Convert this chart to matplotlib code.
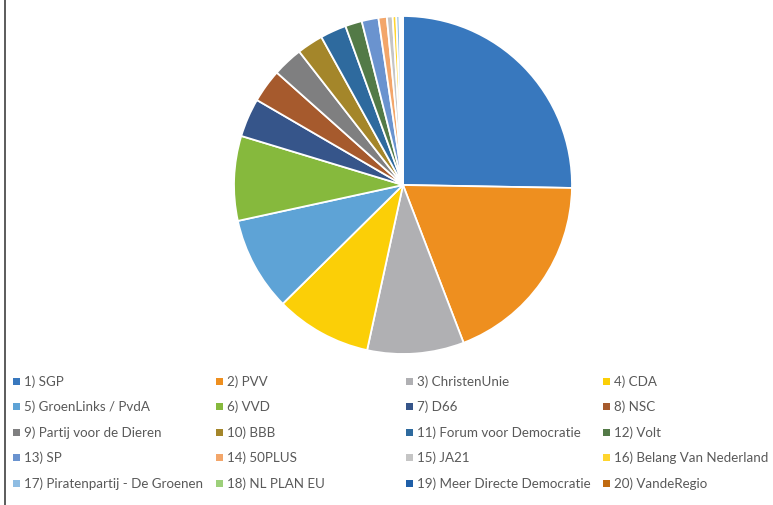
import matplotlib
matplotlib.use('Agg')
import matplotlib.pyplot as plt
from matplotlib.lines import Line2D
from matplotlib.patches import Rectangle

parties = ['SGP', 'PVV', 'ChristenUnie', 'CDA', 'GroenLinks / PvdA', 'VVD',
           'D66', 'NSC', 'Partij voor de Dieren', 'BBB',
           'Forum voor Democratie', 'Volt', 'SP', '50PLUS', 'JA21',
           'Belang Van Nederland', 'Piratenpartij - De Groenen',
           'NL PLAN EU', 'Meer Directe Democratie', 'VandeRegio']
shares = [25.3, 18.9, 9.25, 9.2, 9.0, 8.1, 3.7, 3.2, 2.9, 2.5,
          2.5, 1.6, 1.6, 0.8, 0.55, 0.35, 0.3, 0.15, 0.1, 0.08]
colors = ['#3878BE', '#EE8F1F', '#B0B0B3', '#FBCF07', '#5EA3D6', '#86B93D',
          '#36558A', '#A65A2D', '#7F7F80', '#A4862A', '#2E6A9E', '#537A47',
          '#6A93CF', '#F3A66A', '#C5C5C5', '#FFD52E', '#8FBDE3', '#9DD07A',
          '#1F5FA8', '#C06A10']

W, H = 773, 506
fig = plt.figure(figsize=(W / 100, H / 100), dpi=100)

cx, cy, r = 403, 186, 169
ax = fig.add_axes([(cx - r) / W, (H - cy - r) / H, 2 * r / W, 2 * r / H])
wedges, _ = ax.pie(shares, colors=colors, startangle=90, counterclock=False,
                   radius=1, wedgeprops=dict(edgecolor='white', linewidth=1.3))
ax.set_xlim(-1, 1)
ax.set_ylim(-1, 1)
ax.set_aspect('auto')
ax.axis('off')

# legend, four columns, row-major like Excel
col_x = [16, 219, 409, 606]
row_y = [382, 407, 433, 458, 484]
for i, (name, w) in enumerate(zip(parties, wedges)):
    x = col_x[i % 4]
    y = row_y[i // 4]
    fig.patches.append(Rectangle(((x - 3.5) / W, (H - y - 3.5) / H), 7 / W, 7 / H,
                                 transform=fig.transFigure,
                                 facecolor=w.get_facecolor(), edgecolor='none'))
    fig.text((x + 8) / W, (H - y) / H, f'{i + 1}) {name}', fontsize=9.6,
             family='Lato', color='#595959', va='center', ha='left')

# left border
fig.lines.append(Line2D([4.5 / W, 4.5 / W], [0, 1], transform=fig.transFigure,
                        color='#404040', linewidth=1.2))

fig.savefig('out.png', dpi=100)
